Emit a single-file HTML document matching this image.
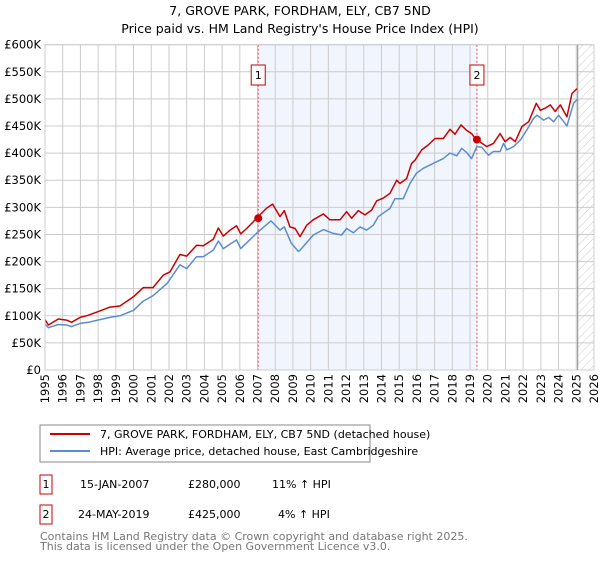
<!DOCTYPE html>
<html><head><meta charset="utf-8"><style>
body{margin:0;background:#fff;font-family:"Liberation Sans","DejaVu Sans",sans-serif;}
svg text{font-family:"DejaVu Sans","Liberation Sans",sans-serif;}
</style></head><body>
<svg id="chart" width="600" height="560" xmlns="http://www.w3.org/2000/svg">
<defs><pattern id="hatch" width="6" height="6" patternUnits="userSpaceOnUse" patternTransform="rotate(45)"><line x1="0" y1="0" x2="0" y2="6" stroke="#ccc" stroke-width="1"/></pattern></defs>
<text x="300" y="15" text-anchor="middle" font-size="12.5">7, GROVE PARK, FORDHAM, ELY, CB7 5ND</text>
<text x="300" y="33" text-anchor="middle" font-size="12.5">Price paid vs. HM Land Registry's House Price Index (HPI)</text>
<g id="plot"></g>
<g>
<rect x="40" y="425" width="330" height="37" fill="#fff" stroke="#888"/>
<line x1="50" y1="434" x2="90" y2="434" stroke="#cc0000" stroke-width="2"/>
<text x="100" y="438" font-size="11">7, GROVE PARK, FORDHAM, ELY, CB7 5ND (detached house)</text>
<line x1="50" y1="451" x2="90" y2="451" stroke="#5b8dd0" stroke-width="2"/>
<text x="100" y="455" font-size="11">HPI: Average price, detached house, East Cambridgeshire</text>
</g>
<g font-size="11">
<rect x="40" y="475" width="12" height="19" fill="#fff" stroke="#cc0000"/><text x="46" y="488" text-anchor="middle">1</text>
<text x="80" y="488">15-JAN-2007</text><text x="188" y="488">£280,000</text><text x="272" y="488">11% ↑ HPI</text>
<rect x="40" y="505" width="12" height="19" fill="#fff" stroke="#cc0000"/><text x="46" y="518" text-anchor="middle">2</text>
<text x="78" y="518">24-MAY-2019</text><text x="188" y="518">£425,000</text><text x="278" y="518">4% ↑ HPI</text>
</g>
<g font-size="11" fill="#777">
<text x="40" y="540">Contains HM Land Registry data © Crown copyright and database right 2025.</text>
<text x="40" y="550">This data is licensed under the Open Government Licence v3.0.</text>
</g>
</svg>
<script>
const yTicks=[0,50,100,150,200,250,300,350,400,450,500,550,600];
const yTickLabels=["£0","£50K","£100K","£150K","£200K","£250K","£300K","£350K","£400K","£450K","£500K","£550K","£600K"];
const xYears=[1995,1996,1997,1998,1999,2000,2001,2002,2003,2004,2005,2006,2007,2008,2009,2010,2011,2012,2013,2014,2015,2016,2017,2018,2019,2020,2021,2022,2023,2024,2025,2026];
const saleDates=[2007.04,2019.39];
const salePrices=[280,425];
const saleLabels=["1","2"];
const redYears=[1995.0,1995.19,1995.75,1996.22,1996.5,1996.98,1997.45,1998.1,1998.67,1999.23,1999.99,2000.55,2001.1,2001.68,2002.06,2002.62,2003.0,2003.56,2003.94,2004.5,2004.79,2005.07,2005.45,2005.82,2006.05,2006.39,2007.04,2007.5,2007.85,2008.27,2008.51,2008.83,2009.12,2009.4,2009.78,2010.15,2010.72,2011.09,2011.66,2012.03,2012.31,2012.69,2013.07,2013.44,2013.73,2014.1,2014.48,2014.86,2015.04,2015.42,2015.7,2015.89,2016.27,2016.64,2017.02,2017.49,2017.87,2018.15,2018.49,2018.81,2019.09,2019.34,2019.56,2019.94,2020.32,2020.7,2020.98,2021.27,2021.55,2021.93,2022.31,2022.74,2022.97,2023.25,2023.53,2023.81,2024.1,2024.47,2024.76,2025.04];
const redValues=[93,83,94,92,88,97,101,109,116,118,135,152,152,175,181,213,210,230,229,241,262,247,258,266,251,261,283,298,306,283,294,264,261,246,267,277,288,277,277,292,280,294,286,295,312,317,326,350,344,353,381,387,406,415,427,427,444,435,452,442,436,425,421,412,418,436,421,429,421,449,458,492,479,483,489,477,489,467,510,519];
const blueYears=[1995.0,1995.19,1995.75,1996.22,1996.5,1996.98,1997.45,1998.1,1998.67,1999.23,1999.99,2000.55,2001.1,2001.9,2002.62,2003.0,2003.56,2003.94,2004.5,2004.79,2005.07,2005.82,2006.05,2007.04,2007.76,2008.27,2008.51,2008.9,2009.3,2009.4,2010.15,2010.72,2011.28,2011.75,2012.03,2012.41,2012.79,2013.16,2013.54,2013.82,2014.48,2014.76,2015.23,2015.61,2015.98,2016.36,2016.92,2017.49,2017.87,2018.25,2018.53,2018.81,2019.09,2019.38,2019.66,2020.04,2020.32,2020.7,2020.89,2021.08,2021.46,2021.84,2022.21,2022.59,2022.78,2023.16,2023.44,2023.72,2024.0,2024.29,2024.47,2024.62,2024.85,2025.04];
const blueValues=[85,78,84,83,80,86,88,93,97,100,110,127,137,160,194,187,209,209,221,238,224,240,224,255,275,258,264,234,219,221,249,259,252,249,261,253,264,258,267,283,298,316,316,344,363,372,381,390,400,395,409,401,390,412,411,396,403,403,418,406,412,424,443,464,470,461,466,458,470,458,450,467,492,499];

const L=45,R=594,T=44.7,B=370;
const xS=y=>L+(y-1995)*(R-L)/31;
const yS=v=>B-v*(B-T)/600;
const NS="http://www.w3.org/2000/svg";
const g=document.getElementById('plot');
function mk(tag,attrs,parent){const e=document.createElementNS(NS,tag);for(const k in attrs)e.setAttribute(k,attrs[k]);(parent||g).appendChild(e);return e;}
// shaded region
let sh=mk('rect',{x:xS(saleDates[0]),y:T,width:xS(saleDates[1])-xS(saleDates[0]),height:B-T,fill:'#eef3fc',opacity:0.8});


let ht=mk('rect',{x:xS(2025.08),y:T,width:R-xS(2025.08),height:B-T,fill:'url(#hatch)'});


// grid
yTicks.forEach((v,i)=>{
 let l=mk('line',{x1:L,x2:R,y1:yS(v),y2:yS(v),stroke:'#ccc','stroke-width':1});
 
 
 let t=mk('text',{x:L-4,y:yS(v)+4,'text-anchor':'end','font-size':'11.5'});
 t.textContent=yTickLabels[i];
 
 
});
xYears.forEach(y=>{
 let l=mk('line',{x1:xS(y),x2:xS(y),y1:T,y2:B,stroke:'#ccc','stroke-width':1});
 
 
 let t=mk('text',{x:0,y:0,'text-anchor':'end','font-size':'11.5',transform:`translate(${xS(y)+4},${B+4}) rotate(-90)`});
 t.textContent=y;
 
 
});
let el=mk('line',{x1:xS(2025.08),x2:xS(2025.08),y1:T,y2:B,stroke:'#888','stroke-width':1});


// sale markers
saleDates.forEach((d,i)=>{
 let l=mk('line',{x1:xS(d),x2:xS(d),y1:T,y2:B,stroke:'#e05050','stroke-width':1,'stroke-dasharray':'2,2'});
 
 
 let r=mk('rect',{x:xS(d)-7,y:65,width:14,height:20,fill:'#fff',stroke:'#cc0000'});
 
 
 let t=mk('text',{x:xS(d),y:79,'text-anchor':'middle','font-size':'11'});
 t.textContent=saleLabels[i];
 
 
});
function line(xs,vs,color,name){
 const p=mk('path',{d:xs.map((x,i)=>(i?'L':'M')+xS(x).toFixed(1)+','+yS(vs[i]).toFixed(1)).join(''),fill:'none',stroke:color,'stroke-width':1.5,'stroke-linejoin':'round'});
 
 
}
line(blueYears,blueValues,'#5b8dd0','hpi-line');
line(redYears,redValues,'#cc0000','price-paid-line');
saleDates.forEach((d,i)=>{
 let c=mk('circle',{cx:xS(d),cy:yS(salePrices[i]),r:4,fill:'#cc0000'});
 
 
});
let fr=mk('rect',{x:L,y:T,width:R-L,height:B-T,fill:'none',stroke:'#ccc'});


</script>
</body></html>
